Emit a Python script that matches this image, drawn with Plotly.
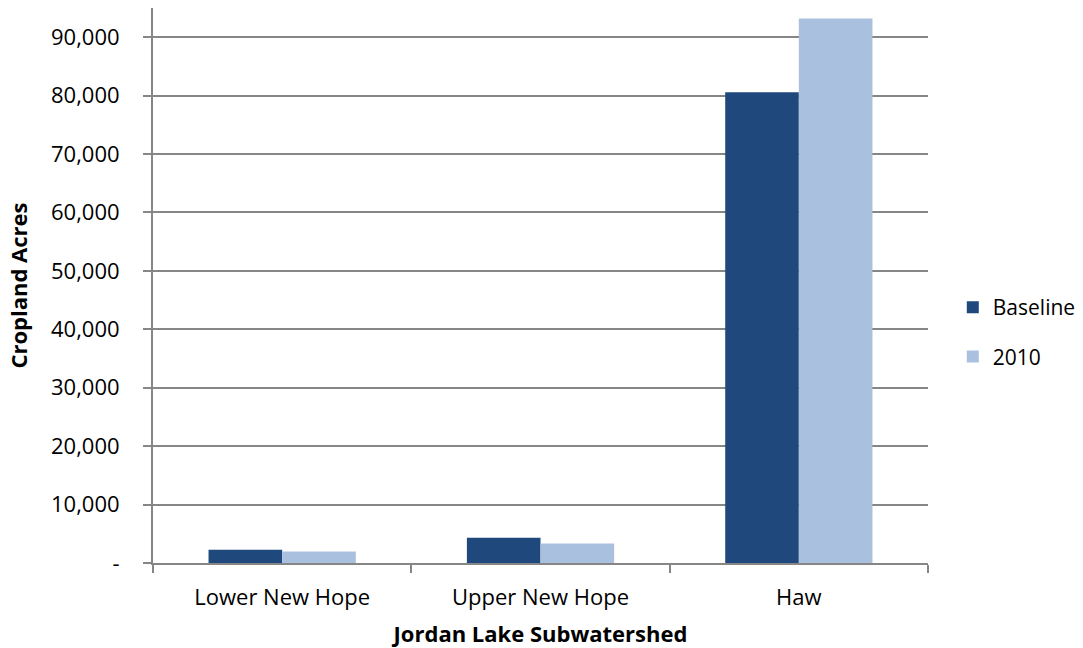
import plotly.graph_objects as go

# Cropland acreage by Jordan Lake subwatershed
subwatersheds = ["Lower New Hope", "Upper New Hope", "Haw"]
baseline = [2260, 4320, 80570]
year_2010 = [1970, 3340, 93210]

y_ticks = [0, 10000, 20000, 30000, 40000, 50000, 60000, 70000, 80000, 90000]
y_tick_text = ["-", "10,000", "20,000", "30,000", "40,000", "50,000",
               "60,000", "70,000", "80,000", "90,000"]

FONT = "Open Sans, DejaVu Sans, sans-serif"
FS = 22

fig = go.Figure()
fig.add_trace(go.Bar(
    name="Baseline", x=subwatersheds, y=baseline,
    marker=dict(color="#1F497D", line=dict(width=0)),
    legendgroup="a",
))
fig.add_trace(go.Bar(
    name="2010", x=subwatersheds, y=year_2010,
    marker=dict(color="#A9C0DF", line=dict(width=0)),
    legendgroup="b",
))

fig.update_layout(
    width=1083, height=648,
    margin=dict(l=153, r=155, t=8, b=85, autoexpand=False),
    paper_bgcolor="white", plot_bgcolor="white",
    barmode="group", bargap=0.43, bargroupgap=0,
    font=dict(family=FONT, size=FS, color="#000000"),
    showlegend=True,
    legend=dict(
        x=1.032, y=0.416, xanchor="left", yanchor="middle",
        font=dict(family=FONT, size=21, color="#000000"),
        tracegroupgap=19, itemwidth=30,
        bgcolor="rgba(0,0,0,0)",
    ),
    xaxis=dict(
        title=dict(text="<b>Jordan Lake Subwatershed</b>", standoff=20,
                   font=dict(family=FONT, size=FS)),
        showline=True, linecolor="#868686", linewidth=2,
        ticks="outside", tickson="boundaries", ticklen=8,
        tickcolor="#868686", tickwidth=2,
        ticklabelstandoff=14,
        showgrid=False, zeroline=False,
        tickfont=dict(family=FONT, size=FS),
    ),
    yaxis=dict(
        title=dict(text="<b>Cropland Acres</b>", standoff=17,
                   font=dict(family=FONT, size=FS)),
        range=[0, 95000],
        tickvals=y_ticks, ticktext=y_tick_text,
        showline=True, linecolor="#868686", linewidth=2,
        ticks="outside", ticklen=8, tickcolor="#868686", tickwidth=2,
        ticklabelstandoff=19,
        showgrid=True, gridcolor="#868686", gridwidth=1.5,
        zeroline=False,
        tickfont=dict(family=FONT, size=FS),
    ),
)

fig.write_html("out.html")
